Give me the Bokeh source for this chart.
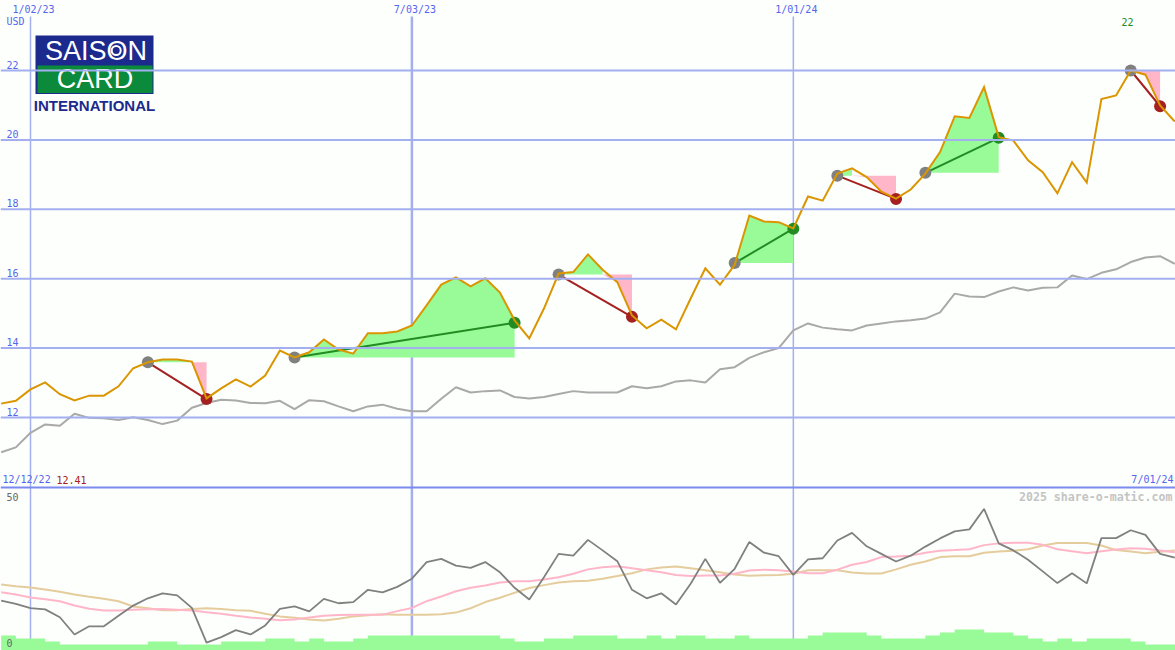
from bokeh.core.properties import value
from bokeh.embed import file_html
from bokeh.models import Range1d, Span
from bokeh.plotting import figure
from bokeh.resources import INLINE

# ---- data -----------------------------------------------------------------
price = [12.40,12.48,12.81,13.01,12.67,12.49,12.63,12.63,12.90,13.42,13.59,13.67,13.67,13.61,12.55,12.84,13.10,12.89,13.21,13.93,
         13.73,13.88,14.25,13.96,13.84,14.43,14.43,14.48,14.65,15.23,15.83,16.04,15.78,16.01,15.60,14.80,14.28,15.14,16.15,16.19,
         16.70,16.26,15.90,14.94,14.57,14.82,14.54,15.43,16.30,15.83,16.40,17.82,17.65,17.63,17.45,18.37,18.25,19.03,19.18,18.93,
         18.51,18.31,18.57,19.03,19.65,20.68,20.63,21.52,20.08,19.98,19.41,19.07,18.46,19.36,18.77,21.18,21.28,22.00,21.88,20.99,20.53]
compare = [11.00,11.14,11.56,11.80,11.76,12.11,11.99,11.98,11.93,12.01,11.93,11.81,11.91,12.28,12.42,12.51,12.49,12.42,12.41,12.48,
           12.24,12.50,12.47,12.32,12.18,12.32,12.37,12.25,12.18,12.18,12.54,12.87,12.72,12.76,12.78,12.59,12.55,12.59,12.68,12.76,
           12.72,12.72,12.72,12.90,12.84,12.90,13.04,13.07,13.01,13.39,13.45,13.72,13.88,14.00,14.51,14.71,14.59,14.54,14.51,14.65,
           14.71,14.77,14.80,14.85,15.03,15.57,15.49,15.47,15.63,15.75,15.66,15.74,15.75,16.09,15.99,16.17,16.27,16.48,16.61,16.65,16.43]
osc = [16.4,15.3,13.8,13.4,10.7,4.8,7.6,7.6,11.2,14.7,17.2,18.9,18.2,13.9,2.0,3.9,6.3,4.8,7.9,13.6,
       14.4,12.7,17.0,15.5,15.9,20.1,19.2,21.1,23.9,29.6,30.7,28.4,27.6,29.6,26.1,20.8,16.8,24.4,32.4,31.8,
       37.2,33.6,29.9,20.1,17.2,18.9,15.1,22.2,30.7,22.5,27.3,36.5,32.8,31.6,25.2,30.5,30.9,37.0,39.6,35.0,
       32.4,29.8,31.8,34.9,37.7,40.1,40.8,47.8,36.0,33.6,30.4,26.4,22.4,25.8,22.3,37.8,37.8,40.5,38.9,32.4,31.1]
osc_fast = [19.3,18.5,17.5,16.9,16.2,14.7,13.6,13.0,13.0,13.3,13.4,13.5,13.3,13.0,12.4,11.9,11.2,10.6,10.2,9.7,
            9.9,10.6,11.2,11.5,11.6,11.6,11.6,12.8,13.9,16.2,17.8,19.6,20.8,21.6,22.6,23.0,23.0,23.6,24.4,25.6,
            27.1,27.8,28.2,27.5,26.8,26.1,25.2,24.8,25.0,25.0,25.6,26.7,27.0,26.8,26.4,25.8,25.8,27.0,28.7,29.6,
            31.3,31.5,31.8,32.8,33.5,33.7,34.0,35.4,36.0,36.2,36.2,35.5,34.0,33.3,32.6,33.3,33.9,34.3,34.2,33.6,33.0]
osc_slow = [21.9,21.3,20.9,20.2,19.4,18.5,17.7,17.0,16.2,14.4,13.8,13.1,13.1,13.5,13.8,13.5,13.1,12.9,11.9,11.0,
            10.5,9.9,9.6,10.2,11.0,11.4,11.7,11.6,11.6,11.6,11.7,12.3,13.8,15.9,17.4,19.1,20.7,21.7,22.6,23.0,
            23.2,23.9,24.8,25.8,27.1,27.7,28.1,27.5,26.8,26.1,25.3,24.9,25.1,25.2,25.6,26.8,26.8,26.8,26.0,25.7,
            25.7,27.1,28.7,29.8,31.3,31.6,31.6,32.8,33.2,33.5,34.0,35.3,36.1,36.1,36.1,35.3,33.7,33.2,32.6,33.1,33.6]
volume = [5,4,4,3,2,2,2,2,2,2,3,3,2,2,2,3,3,3,4,4,
          3,4,3,3,4,5,5,5,5,5,5,5,5,5,4,3,3,4,4,5,
          5,5,4,4,5,4,5,5,4,4,5,4,4,4,4,5,6,6,6,5,
          4,4,4,5,6,7,7,6,6,5,4,3,4,3,4,4,4,3,2,2,2]
entry_week = [10,20,38,50,57,63,77]
exit_week = [14,35,43,54,61,68,79]
entry_value = [13.59,13.73,16.12,16.45,18.97,19.05,22.00]
exit_value = [12.53,14.73,14.90,17.44,18.30,20.06,20.97]

date_weeks = [2,28,54]
date_labels = ["1/02/23","7/03/23","1/01/24"]
price_ticks = [22,20,18,16,14,12]
price_tick_labels = ["22","20","18","16","14","12"]
osc_ticks = [50,0]
osc_tick_labels = ["50","0"]
unit_label = "USD"
start_label = "12/12/22"
start_value_label = "12.41"
end_label = "7/01/24"
high_label = "22"
credit_label = "2025 share-o-matic.com"
logo_words = ["SAISON","CARD","INTERNATIONAL"]

BG = "#FDFFFC"
GRID = "#A3AFEF"
BLUE = "#5566EE"
MONO = "DejaVu Sans Mono"
SANS = "Liberation Sans"

weeks = list(range(len(price)))
W, H = 1175, 650
PX_WEEK = 14.67
week0 = 2 - 30 / PX_WEEK

p = figure(width=W, height=H, output_backend="svg", toolbar_location=None,
           x_range=Range1d(week0, week0 + W / PX_WEEK),
           y_range=Range1d(12 - 233 / 34.7, 12 + 417 / 34.7),
           background_fill_color=BG, border_fill_color=BG, outline_line_color=None,
           min_border=0, min_border_left=0, min_border_right=0, min_border_top=0, min_border_bottom=0)
p.axis.visible = False
p.grid.visible = False
p.extra_x_ranges["px"] = Range1d(0, W)
p.extra_y_ranges["px"] = Range1d(H, 0)
p.extra_y_ranges["osc"] = Range1d(-2 / 2.92, 648 / 2.92)
p.extra_y_ranges["vol"] = Range1d(0, H / 3)

# grid
for v in price_ticks:
    p.add_layout(Span(location=v, dimension="width", line_color=GRID, line_width=2))
p.segment(x0=date_weeks, x1=date_weeks, y0=[16] * 3, y1=[640] * 3, y_range_name="px",
          line_color=GRID, line_width=[1.5, 2.5, 1.5])
p.segment(x0=[0], x1=[W], y0=[487], y1=[487], x_range_name="px", y_range_name="px",
          line_color="#7A8AEE", line_width=2)

# trade shading
for a, b, base in zip(entry_week, exit_week, entry_value):
    xs = weeks[a:b + 1]
    ys = [base] + price[a + 1:b + 1]
    run = 1
    while run < len(ys) and ys[run] >= base:
        run += 1
    p.varea(x=xs[:run], y1=[base] * run, y2=ys[:run], fill_color="#98FB98")
    if ys[-1] < base:
        k = run - 1
        p.varea(x=xs[k:], y1=[base] * (len(xs) - k), y2=[min(y, base) for y in ys[k:]], fill_color="#FFB6C9")

# comparison line
p.line(weeks, compare, line_color="#A9A9A9", line_width=2)

# trades
for a, b, ea, eb in zip(entry_week, exit_week, entry_value, exit_value):
    col = "#228B22" if eb > ea else "#A52020"
    p.line([a, b], [ea, eb], line_color=col, line_width=2)
    p.scatter([a], [ea], size=12, fill_color="#808080", line_color=None)
    p.scatter([b], [eb], size=12, fill_color=col, line_color=None)

# price
p.line(weeks, price, line_color="#DA9500", line_width=2, line_join="miter")

# lower pane
p.line(weeks, osc_slow, y_range_name="osc", line_color="#E5CC9C", line_width=2)
p.line(weeks, osc_fast, y_range_name="osc", line_color="#FFB6C9", line_width=2)
p.line(weeks, osc, y_range_name="osc", line_color="#808080", line_width=1.8)
p.varea_step(x=weeks + [weeks[-1] + 1], y1=[0] * (len(weeks) + 1), y2=volume + [volume[-1]], step_mode="after",
             y_range_name="vol", fill_color="#98FB98")

# texts
def txt(x, y, s, color=BLUE, size="10px", align="left", font=MONO, style="normal", xr="px", yr="px", **kw):
    p.text(x=[x], y=[y], text=[s], x_range_name=xr, y_range_name=yr, text_color=color,
           text_font=value(font), text_font_size=size, text_font_style=style, text_align=align,
           text_baseline="middle", **kw)

for w, s in zip(date_weeks, date_labels):
    txt(w, 9, s, xr="default", align="center", x_offset=3)
txt(6, 21, unit_label)
for v, s in zip(price_ticks, price_tick_labels):
    txt(6, v, s, yr="default", y_offset=-6)
for v, s in zip(osc_ticks, osc_tick_labels):
    txt(6, v, s, color="#666666", yr="osc", y_offset=-6)
txt(2, 479, start_label)
txt(56, 479, start_value_label, color="#A52020")
txt(1173, 479, end_label, align="right")
txt(1127, 21, high_label, color="#228B22", align="center")
txt(1172, 496, credit_label, color="#C4C4C4", size="11.6px", align="right", style="bold")

# logo
p.quad(left=[35], right=[153], top=[35], bottom=[93.5], x_range_name="px", y_range_name="px",
       fill_color="#1B2A8C", line_color=None)
p.quad(left=[37], right=[152], top=[65], bottom=[92.5], x_range_name="px", y_range_name="px",
       fill_color="#0B8A3C", line_color=None)
txt(95.5, 50, logo_words[0], color="#FFFFFF", size="27px", align="center", font=SANS)
txt(94.5, 78.5, logo_words[1], color="#FFFFFF", size="27px", align="center", font=SANS)
txt(94, 105, logo_words[2], color="#1B2A8C", size="15px", align="center", font=SANS, style="bold")
p.scatter([115.7], [50], size=9, x_range_name="px", y_range_name="px", fill_color="#1B2A8C",
          line_color="#FFFFFF", line_width=2)

open("out.html", "w").write(file_html(p, INLINE))
